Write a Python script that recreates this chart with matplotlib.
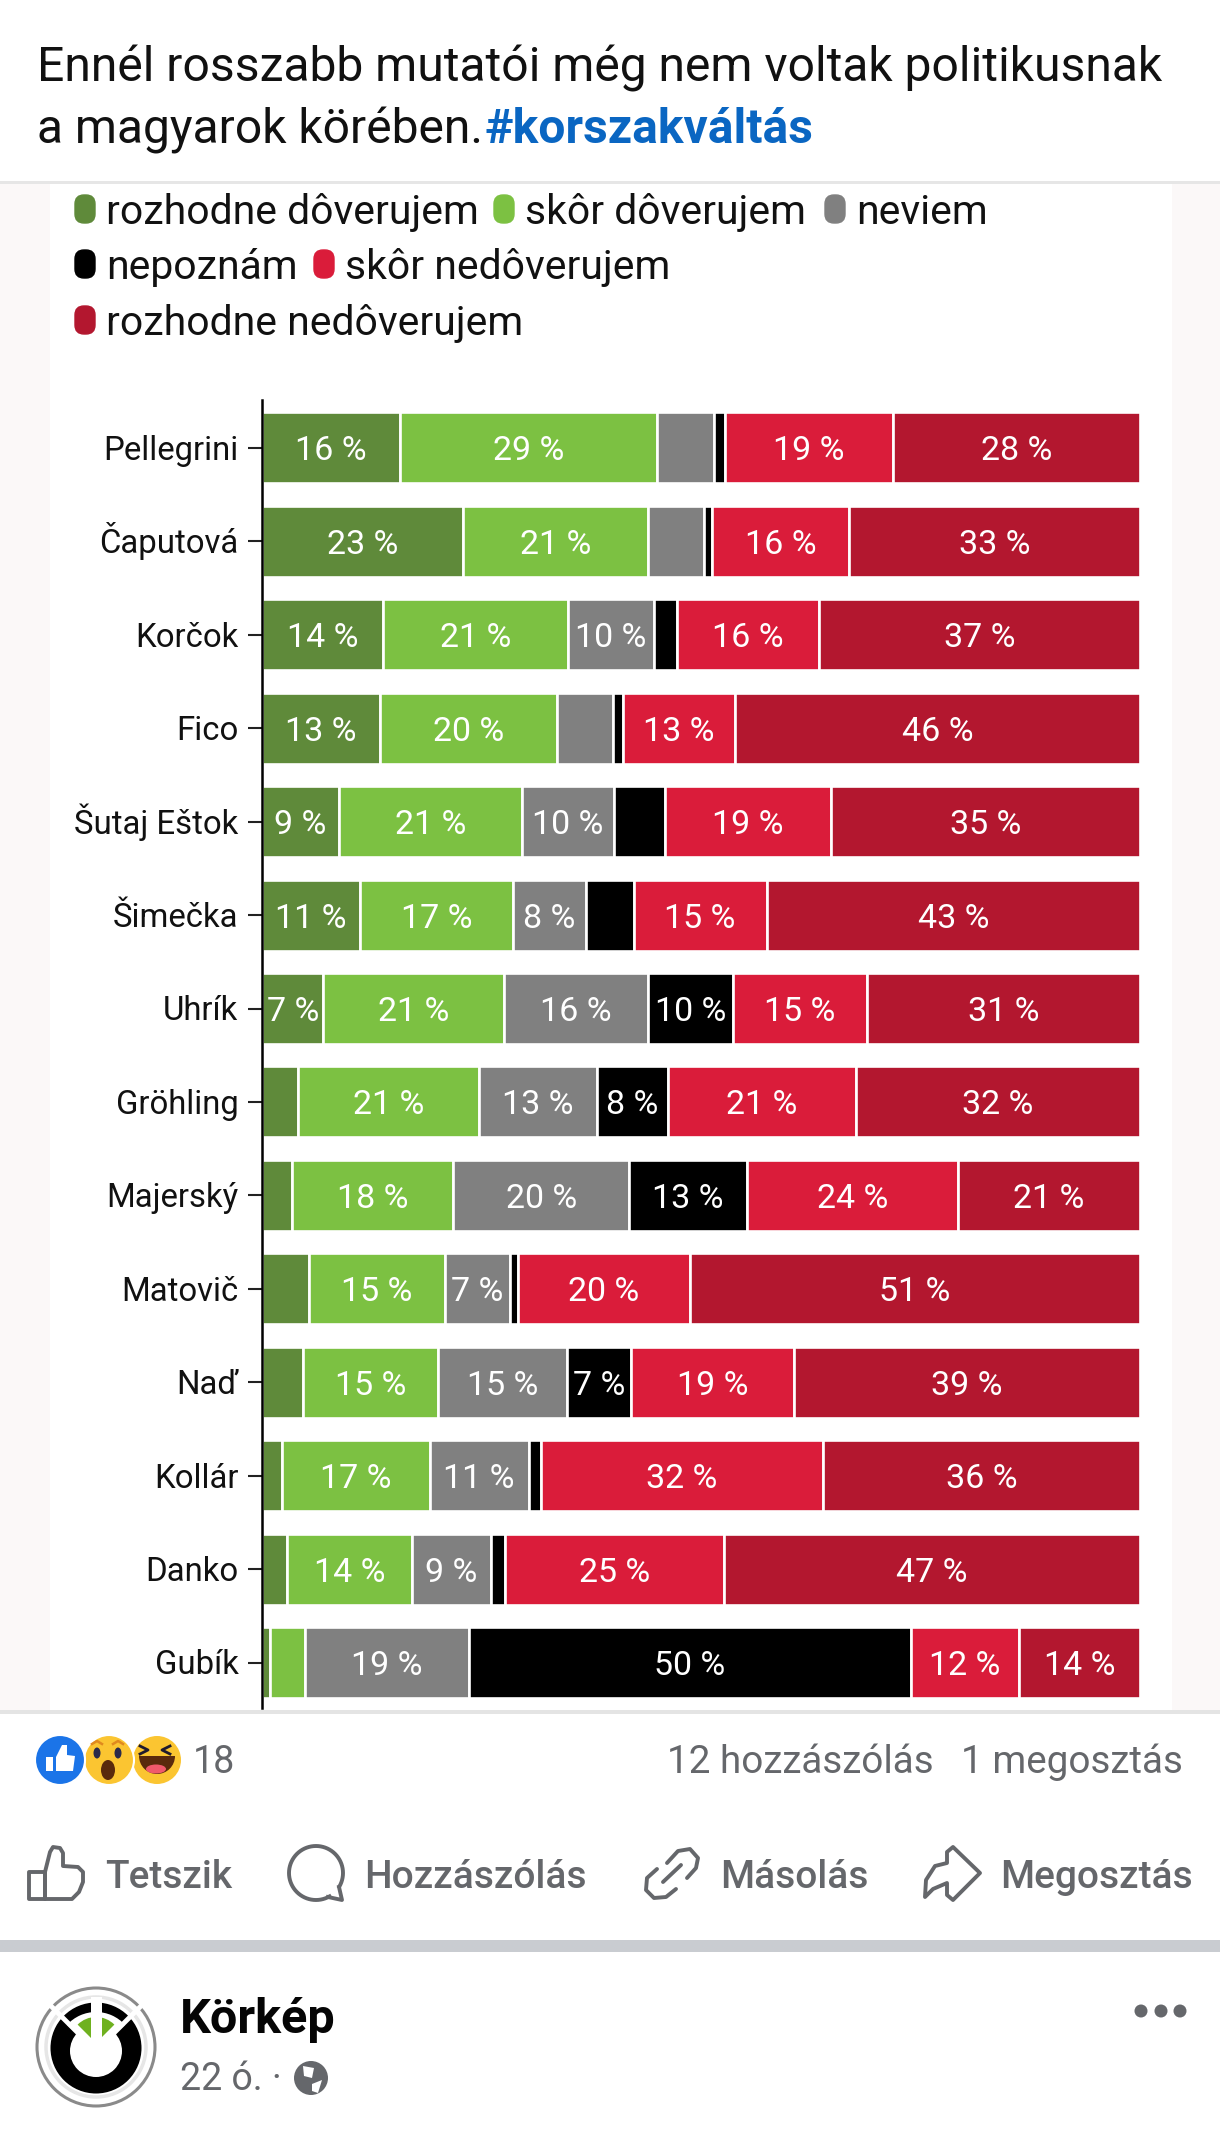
import numpy as np
import matplotlib
matplotlib.use("Agg")
import matplotlib.pyplot as plt
from matplotlib.patches import Circle, Ellipse, Polygon, Rectangle, Wedge, FancyBboxPatch

plt.rcParams['font.family'] = ['Roboto', 'DejaVu Sans']

W, H = 1220, 2154

# chart data, percent, one list per answer
politicians = ["Pellegrini", "Čaputová", "Korčok", "Fico", "Šutaj Eštok", "Šimečka", "Uhrík",
               "Gröhling", "Majerský", "Matovič", "Naď", "Kollár", "Danko", "Gubík"]
definitely_trust = [15.7, 22.9, 13.8, 13.4, 8.8, 11.2, 7.0, 4.1, 3.4, 5.4, 4.7, 2.3, 2.8, 0.9]
rather_trust = [29.3, 21.1, 21.0, 20.2, 20.8, 17.4, 20.6, 20.6, 18.4, 15.4, 15.4, 16.8, 14.3, 4.0]
dont_know = [6.5, 6.3, 9.9, 6.4, 10.4, 8.4, 16.4, 13.4, 20.0, 7.4, 14.6, 11.3, 8.9, 18.7]
unknown = [1.25, 1.0, 2.6, 1.1, 5.9, 5.4, 9.7, 8.1, 13.4, 0.9, 7.3, 1.4, 1.6, 50.3]
rather_distrust = [19.1, 15.6, 16.1, 12.8, 18.8, 15.2, 15.3, 21.4, 24.1, 19.6, 18.6, 32.2, 25.0, 12.3]
definitely_distrust = [28.2, 33.1, 36.6, 46.1, 35.2, 42.6, 31.1, 32.3, 20.7, 51.2, 39.4, 36.1, 47.3, 13.8]

series_names = ["rozhodne dôverujem", "skôr dôverujem", "neviem",
                "nepoznám", "skôr nedôverujem", "rozhodne nedôverujem"]
series_colors = ["#5f8a3a", "#7cc142", "#808080", "#000000", "#da1c3a", "#b3172f"]
series = [definitely_trust, rather_trust, dont_know, unknown, rather_distrust, definitely_distrust]

post_text = ["Ennél rosszabb mutatói még nem voltak politikusnak", "a magyarok körében."]
hashtag = "#korszakváltás"
action_labels = ["Tetszik", "Hozzászólás", "Másolás", "Megosztás"]

fig = plt.figure(figsize=(W / 100, H / 100), dpi=100, facecolor="white")

# whole page in pixel coordinates, y down
bg = fig.add_axes([0, 0, 1, 1])
bg.set_xlim(0, W)
bg.set_ylim(H, 0)
bg.axis("off")

# screenshot of the graphic: pale margins, white image
bg.add_patch(Rectangle((0, 183), W, 1529, fc="#fbf8f8", ec="none"))
bg.add_patch(Rectangle((50, 183), 1122, 1529, fc="white", ec="none"))
bg.add_patch(Rectangle((0, 181), W, 3, fc="#e6e6e6", ec="none"))
bg.add_patch(Rectangle((0, 1710), W, 4, fc="#e4e4e4", ec="none"))
bg.add_patch(Rectangle((0, 1940), W, 12, fc="#c9ccd1", ec="none"))

# post text
bg.text(37, 81, post_text[0], fontsize=34.6, color="#111111", va="baseline")
t = bg.text(37, 143, post_text[1], fontsize=34.6, color="#111111", va="baseline")
fig.canvas.draw()
end = t.get_window_extent().x1
bg.text(end + 1, 143, hashtag, fontsize=34.6, color="#0a66c2", fontweight="bold", va="baseline")

# legend
legend_slots = [(85, 224), (504, 224), (835, 224), (85, 279), (324, 279), (85, 335)]
for name, color, (lx, ly) in zip(series_names, series_colors, legend_slots):
    bg.add_patch(FancyBboxPatch((lx - 10, ly - 29), 20, 28, boxstyle="round,pad=0,rounding_size=9",
                                fc=color, ec=color, lw=1))
    bg.text(lx + 21, ly, name, fontsize=29.4, color="#111111", va="baseline")

# stacked bars
left_px, right_px, top_px, bottom_px = 262, 1140, 400, 1708
ax = fig.add_axes([left_px / W, 1 - bottom_px / H, (right_px - left_px) / W, (bottom_px - top_px) / H])
ax.patch.set_alpha(0)
values = np.array(series, dtype=float)
shares = values / values.sum(axis=0) * 100
y = np.arange(len(politicians))
lefts = np.zeros(len(politicians))
for k, color in enumerate(series_colors):
    ax.barh(y, shares[k], left=lefts, height=0.76, color=color, edgecolor="white", linewidth=1.9)
    for i in y:
        if values[k][i] >= 6.95:
            ax.text(lefts[i] + shares[k][i] / 2, i, f"{values[k][i]:.0f} %", color="white",
                    fontsize=24.5, ha="center", va="center_baseline")
    lefts += shares[k]

ax.set_xlim(0, 100)
ax.set_ylim(13.487, -0.513)
ax.set_yticks(y, [""] * len(y))
ax.tick_params(axis="y", length=10, width=1.5, color="#222222")
# names sit on a common baseline so accents don't push them down
for i, name in zip(y, politicians):
    ax.annotate(name, (0, i), xytext=(-17, -8.6), textcoords="offset points", fontsize=23.7,
                color="#111111", ha="right", va="baseline", annotation_clip=False)
ax.xaxis.set_visible(False)
for side in ["top", "right", "bottom"]:
    ax.spines[side].set_visible(False)
ax.spines["left"].set_linewidth(1.8)
ax.spines["left"].set_color("black")

# reactions row: haha under wow under like
grey_text = "#65676b"
brown = "#5a2a0c"
bg.add_patch(Circle((157, 1760), 24, fc="#fbc531", ec="none", zorder=1))
bg.add_patch(Wedge((157, 1756), 18, 0, 180, fc=brown, ec="none", zorder=1.1))
bg.add_patch(Ellipse((156, 1769), 20, 9, fc="#f0596b", ec="none", zorder=1.2))
bg.plot([140, 148, 140], [1746, 1750, 1754], color="#1f1a2e", lw=2, zorder=1.1)
bg.plot([170, 162, 170], [1746, 1750, 1754], color="#1f1a2e", lw=2, zorder=1.1)

bg.add_patch(Circle((109, 1760), 25, fc="#fbc531", ec="white", lw=1.5, zorder=2))
bg.add_patch(Ellipse((97, 1753), 7, 11, fc="#2a2a4a", ec="none", zorder=2.1))
bg.add_patch(Ellipse((118, 1753), 7, 11, fc="#2a2a4a", ec="none", zorder=2.1))
bg.add_patch(Ellipse((108, 1770), 14, 20, fc=brown, ec="none", zorder=2.1))
bg.plot([92, 97, 102], [1744, 1741, 1744], color="#e08a1e", lw=1.8, zorder=2.1)
bg.plot([113, 118, 123], [1744, 1741, 1744], color="#e08a1e", lw=1.8, zorder=2.1)

bg.add_patch(Circle((60, 1760), 25, fc="#1b74e8", ec="white", lw=1.5, zorder=3))
bg.add_patch(Polygon([(46, 1757), (53, 1757), (53, 1771), (46, 1771)], fc="white", ec="none", zorder=3.1))
bg.add_patch(Polygon([(56, 1757), (62, 1745), (67, 1745), (67, 1755), (75, 1756), (73, 1771), (56, 1771)],
                     fc="white", ec="none", zorder=3.1))

bg.text(193, 1773, "18", fontsize=27, color=grey_text, va="baseline")
bg.text(934, 1773, "12 hozzászólás", fontsize=27.8, color=grey_text, ha="right", va="baseline")
bg.text(1183, 1773, "1 megosztás", fontsize=27.8, color=grey_text, ha="right", va="baseline")

# action row, icons are plain outlines
icon = dict(fc="none", ec=grey_text, lw=2.8, joinstyle="round")
bg.add_patch(Polygon([(29, 1872), (45, 1872), (45, 1899), (29, 1899)], **icon))
bg.add_patch(Polygon([(45, 1872), (50, 1852), (53, 1847), (60, 1848), (63, 1853), (63, 1866), (78, 1867),
                      (83, 1872), (83, 1882), (79, 1892), (72, 1899), (45, 1899)], **icon))
bubble_angles = np.radians(np.arange(60, 395, 5))
bg.plot(316 + 27 * np.cos(bubble_angles), 1873 + 27 * np.sin(bubble_angles), color=grey_text, lw=2.8)
bg.plot([328, 342, 339], [1897, 1900, 1887], color=grey_text, lw=2.8, solid_joinstyle="round")
round_line = dict(color=grey_text, lw=2.8, solid_capstyle="round", solid_joinstyle="round")
bg.plot([667, 678, 690, 698, 696, 687], [1863, 1851, 1849, 1858, 1868, 1878], **round_line)
bg.plot([663, 681], [1882, 1865], **round_line)
bg.plot([657, 647, 646, 654, 666, 676], [1869, 1878, 1890, 1898, 1897, 1889], **round_line)
bg.add_patch(Polygon([(980, 1873), (953, 1847), (947, 1852), (947, 1863), (935, 1866), (926, 1880), (925, 1897),
                      (933, 1889), (947, 1883), (947, 1895), (953, 1900)], **icon))
action_x = [105, 364, 720, 1000]
for label, action_px in zip(action_labels, action_x):
    bg.text(action_px, 1888, label, fontsize=28, fontweight="medium", color=grey_text, va="baseline")

# page header, logo first
cx, cy = 96, 2047
bg.add_patch(Circle((cx, cy), 59, fc="white", ec="#8a8a8a", lw=2.2))
bg.add_patch(Circle((cx, cy), 50, fc="white", ec="#e6e6e6", lw=2.5))
bg.add_patch(Circle((cx, cy + 1), 45.5, fc="black", ec="none"))
bg.add_patch(Wedge((cx, cy + 4), 39, 222, 318, fc="white", ec="none"))
bg.add_patch(Circle((cx, cy + 4), 26, fc="white", ec="none"))
bg.plot([cx, cx - 48], [cy + 4, cy - 44], color="white", lw=3.5)
bg.plot([cx, cx + 48], [cy + 4, cy - 44], color="white", lw=3.5)
bg.add_patch(Wedge((cx, cy - 4), 26, 225, 315, fc="#6fb11f", ec="none"))
bg.add_patch(Rectangle((cx - 5.5, cy - 50), 11, 50, fc="white", ec="none"))

bg.text(180, 2033, "Körkép", fontsize=35, fontweight="bold", color="#050505", va="baseline")
bg.text(180, 2090, "22 ó. ·", fontsize=27, color=grey_text, va="baseline")
bg.add_patch(Circle((311, 2078), 17, fc=grey_text, ec="none"))
bg.add_patch(Polygon([(303, 2066), (314, 2068), (312, 2078), (304, 2076)], fc="white", ec="none"))
bg.add_patch(Polygon([(312, 2084), (322, 2080), (318, 2093), (312, 2091)], fc="white", ec="none"))
for dot_x in [1141, 1161, 1180]:
    bg.add_patch(Circle((dot_x, 2011), 6.5, fc=grey_text, ec="none"))

fig.savefig("out.png", dpi=100)
